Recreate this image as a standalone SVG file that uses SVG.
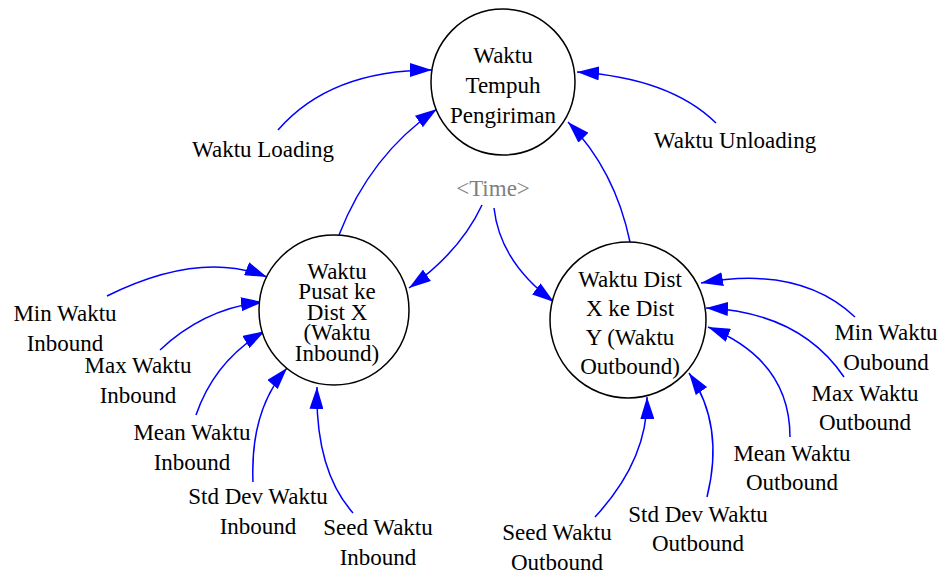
<svg xmlns="http://www.w3.org/2000/svg" width="943" height="574" viewBox="0 0 943 574">
  <style>
    .node { fill: #fff; stroke: #000; stroke-width: 1.5; }
    .link { fill: none; stroke: #0000ff; stroke-width: 1.5; marker-end: url(#arrow); }
  </style>
  <defs>
    <marker id="arrow" viewBox="0 0 22 14" refX="22" refY="7" markerWidth="22" markerHeight="14" markerUnits="userSpaceOnUse" orient="auto">
      <path d="M0,0 L22,7 L0,14 z" fill="#0000ff"/>
    </marker>
  </defs>
  <rect width="943" height="574" fill="#fff"/>

  <g id="connectors">
    <path class="link" d="M278,130 Q330,70 432,70"/>
    <path class="link" d="M716,123 Q670,78 577,72"/>
    <path class="link" d="M339,235 Q370,155 437,109"/>
    <path class="link" d="M630,242 Q615,170 568,122"/>
    <path class="link" d="M482,205 Q460,252 409,288"/>
    <path class="link" d="M494,208 Q500,262 554,302"/>
    <path class="link" d="M107,296 Q200,250 267,277"/>
    <path class="link" d="M160,350 Q205,308 263,302"/>
    <path class="link" d="M196,415 Q215,360 265,331"/>
    <path class="link" d="M253,482 Q250,410 287,368"/>
    <path class="link" d="M353,513 Q315,470 317,387"/>
    <path class="link" d="M855,317 Q800,265 701,283"/>
    <path class="link" d="M844,377 Q800,312 706,308"/>
    <path class="link" d="M790,437 Q790,360 708,327"/>
    <path class="link" d="M707,497 Q725,425 689,373"/>
    <path class="link" d="M595,517 Q648,460 647,397"/>
  </g>

  <g id="waktu-tempuh-pengiriman">
    <ellipse class="node" cx="503" cy="82" rx="72" ry="73"/>
    <text x="503" y="63" font-family="Liberation Serif" font-size="23" text-anchor="middle">Waktu</text>
    <text x="503" y="93" font-family="Liberation Serif" font-size="23" text-anchor="middle">Tempuh</text>
    <text x="503" y="123" font-family="Liberation Serif" font-size="23" text-anchor="middle">Pengiriman</text>
  </g>

  <g id="waktu-pusat-ke-dist-x">
    <circle class="node" cx="334" cy="310" r="75"/>
    <text x="337" y="279" font-family="Liberation Serif" font-size="23" text-anchor="middle">Waktu</text>
    <text x="337" y="299" font-family="Liberation Serif" font-size="23" text-anchor="middle">Pusat ke</text>
    <text x="337" y="320" font-family="Liberation Serif" font-size="23" text-anchor="middle">Dist X</text>
    <text x="337" y="340" font-family="Liberation Serif" font-size="23" text-anchor="middle">(Waktu</text>
    <text x="337" y="361" font-family="Liberation Serif" font-size="23" text-anchor="middle">Inbound)</text>
  </g>

  <g id="waktu-dist-x-ke-dist-y">
    <circle class="node" cx="628" cy="320" r="78"/>
    <text x="630" y="287" font-family="Liberation Serif" font-size="23" text-anchor="middle">Waktu Dist</text>
    <text x="630" y="316" font-family="Liberation Serif" font-size="23" text-anchor="middle">X ke Dist</text>
    <text x="630" y="345" font-family="Liberation Serif" font-size="23" text-anchor="middle">Y (Waktu</text>
    <text x="630" y="374" font-family="Liberation Serif" font-size="23" text-anchor="middle">Outbound)</text>
  </g>

  <g id="time">
    <text x="493" y="196" font-family="Liberation Serif" font-size="23" text-anchor="middle" fill="#808080">&lt;Time&gt;</text>
  </g>

  <g id="waktu-loading"><text x="263" y="157" font-family="Liberation Serif" font-size="23" text-anchor="middle">Waktu Loading</text></g>
  <g id="waktu-unloading"><text x="735" y="148" font-family="Liberation Serif" font-size="23" text-anchor="middle">Waktu Unloading</text></g>

  <g id="min-waktu-inbound">
    <text x="65" y="321" font-family="Liberation Serif" font-size="23" text-anchor="middle">Min Waktu</text>
    <text x="65" y="351" font-family="Liberation Serif" font-size="23" text-anchor="middle">Inbound</text>
  </g>
  <g id="max-waktu-inbound">
    <text x="138" y="373" font-family="Liberation Serif" font-size="23" text-anchor="middle">Max Waktu</text>
    <text x="138" y="403" font-family="Liberation Serif" font-size="23" text-anchor="middle">Inbound</text>
  </g>
  <g id="mean-waktu-inbound">
    <text x="192" y="440" font-family="Liberation Serif" font-size="23" text-anchor="middle">Mean Waktu</text>
    <text x="192" y="470" font-family="Liberation Serif" font-size="23" text-anchor="middle">Inbound</text>
  </g>
  <g id="std-dev-waktu-inbound">
    <text x="258" y="504" font-family="Liberation Serif" font-size="23" text-anchor="middle">Std Dev Waktu</text>
    <text x="258" y="534" font-family="Liberation Serif" font-size="23" text-anchor="middle">Inbound</text>
  </g>
  <g id="seed-waktu-inbound">
    <text x="378" y="535" font-family="Liberation Serif" font-size="23" text-anchor="middle">Seed Waktu</text>
    <text x="378" y="565" font-family="Liberation Serif" font-size="23" text-anchor="middle">Inbound</text>
  </g>

  <g id="min-waktu-oubound">
    <text x="886" y="340" font-family="Liberation Serif" font-size="23" text-anchor="middle">Min Waktu</text>
    <text x="886" y="370" font-family="Liberation Serif" font-size="23" text-anchor="middle">Oubound</text>
  </g>
  <g id="max-waktu-outbound">
    <text x="865" y="401" font-family="Liberation Serif" font-size="23" text-anchor="middle">Max Waktu</text>
    <text x="865" y="430" font-family="Liberation Serif" font-size="23" text-anchor="middle">Outbound</text>
  </g>
  <g id="mean-waktu-outbound">
    <text x="792" y="461" font-family="Liberation Serif" font-size="23" text-anchor="middle">Mean Waktu</text>
    <text x="792" y="490" font-family="Liberation Serif" font-size="23" text-anchor="middle">Outbound</text>
  </g>
  <g id="std-dev-waktu-outbound">
    <text x="698" y="522" font-family="Liberation Serif" font-size="23" text-anchor="middle">Std Dev Waktu</text>
    <text x="698" y="551" font-family="Liberation Serif" font-size="23" text-anchor="middle">Outbound</text>
  </g>
  <g id="seed-waktu-outbound">
    <text x="557" y="540" font-family="Liberation Serif" font-size="23" text-anchor="middle">Seed Waktu</text>
    <text x="557" y="570" font-family="Liberation Serif" font-size="23" text-anchor="middle">Outbound</text>
  </g>
</svg>
